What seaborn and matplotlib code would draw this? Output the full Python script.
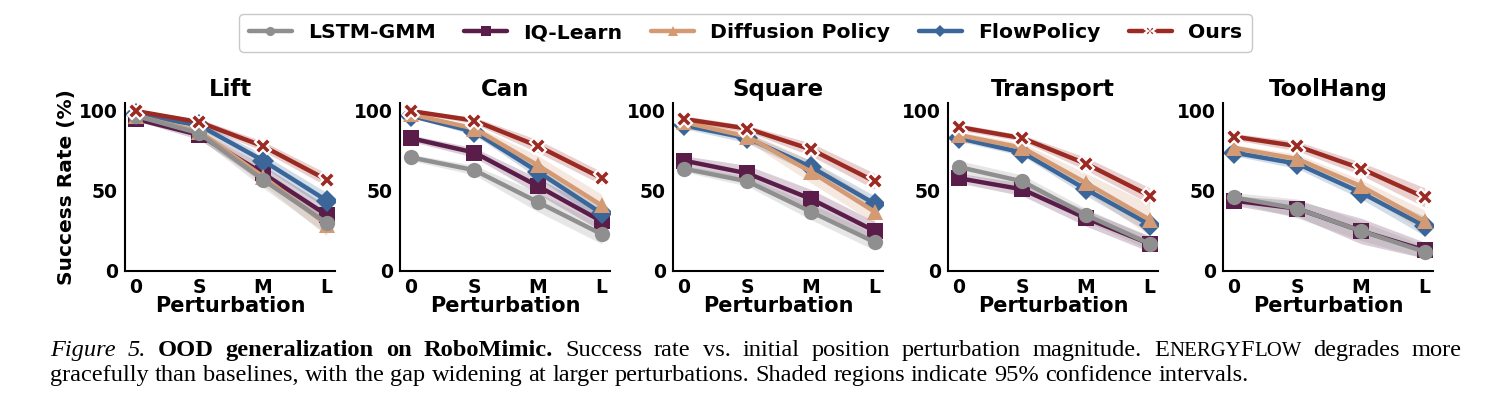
import numpy as np
import seaborn as sns
import matplotlib.pyplot as plt

# perturbation levels
levels = ['0', 'S', 'M', 'L']
methods = ['LSTM-GMM', 'IQ-Learn', 'Diffusion Policy', 'FlowPolicy', 'Ours']
draw_order = ['IQ-Learn', 'FlowPolicy', 'Diffusion Policy', 'LSTM-GMM', 'Ours']
tasks = ['Lift', 'Can', 'Square', 'Transport', 'ToolHang']

# mean success rates (%)
lift = {'LSTM-GMM': [97, 86, 57, 30], 'IQ-Learn': [95, 85, 61, 35],
        'Diffusion Policy': [97, 87, 59, 29], 'FlowPolicy': [98, 91, 69, 44],
        'Ours': [100, 93, 78, 57]}
can = {'LSTM-GMM': [71, 63, 43, 23], 'IQ-Learn': [83, 74, 53, 31],
       'Diffusion Policy': [98, 89, 66, 41], 'FlowPolicy': [97, 87, 62, 36],
       'Ours': [100, 94, 78, 58]}
square = {'LSTM-GMM': [64, 56, 37, 18], 'IQ-Learn': [69, 61, 45, 25],
          'Diffusion Policy': [93, 84, 62, 37], 'FlowPolicy': [91, 83, 65, 42],
          'Ours': [95, 89, 76, 56]}
transport = {'LSTM-GMM': [65, 56, 35, 17], 'IQ-Learn': [58, 51, 33, 17],
             'Diffusion Policy': [85, 77, 55, 32], 'FlowPolicy': [83, 74, 51, 29],
             'Ours': [90, 83, 67, 47]}
toolhang = {'LSTM-GMM': [46, 39, 25, 12], 'IQ-Learn': [44, 39, 25, 13],
            'Diffusion Policy': [77, 70, 53, 31], 'FlowPolicy': [74, 67, 49, 28],
            'Ours': [84, 78, 64, 46]}

# 95% CI half-widths (estimated from the shaded bands)
lift_ci = {'LSTM-GMM': [1, 3, 5, 7], 'IQ-Learn': [1, 3, 5, 6],
           'Diffusion Policy': [1, 3, 5, 7], 'FlowPolicy': [1, 2, 4, 5],
           'Ours': [1, 2, 3, 4]}
can_ci = {'LSTM-GMM': [2, 3, 6, 6], 'IQ-Learn': [2, 3, 5, 6],
          'Diffusion Policy': [1, 2, 6, 7], 'FlowPolicy': [1, 2, 4, 5],
          'Ours': [1, 2, 4, 4]}
square_ci = {'LSTM-GMM': [2, 3, 5, 5], 'IQ-Learn': [3, 5, 6, 6],
             'Diffusion Policy': [2, 3, 7, 7], 'FlowPolicy': [2, 3, 4, 5],
             'Ours': [2, 2, 4, 5]}
transport_ci = {'LSTM-GMM': [4, 4, 4, 4], 'IQ-Learn': [3, 4, 5, 5],
                'Diffusion Policy': [2, 3, 6, 10], 'FlowPolicy': [2, 2, 4, 5],
                'Ours': [2, 2, 4, 5]}
toolhang_ci = {'LSTM-GMM': [3, 6, 6, 4], 'IQ-Learn': [3, 5, 8, 5],
               'Diffusion Policy': [2, 3, 4, 7], 'FlowPolicy': [2, 3, 4, 6],
               'Ours': [2, 3, 4, 6]}

means = [lift, can, square, transport, toolhang]
cis = [lift_ci, can_ci, square_ci, transport_ci, toolhang_ci]

colors = {'LSTM-GMM': '#8f8f8f', 'IQ-Learn': '#5a1d4a',
          'Diffusion Policy': '#d49a74', 'FlowPolicy': '#3a6699',
          'Ours': '#9b2a22'}
markers = {'LSTM-GMM': 'o', 'IQ-Learn': 's', 'Diffusion Policy': '^',
           'FlowPolicy': 'D', 'Ours': 'X'}

sns.set_style('white')
plt.rcParams['font.family'] = ['DejaVu Sans']
plt.rcParams['font.weight'] = 'bold'
for k in ['text.color', 'axes.labelcolor', 'xtick.color', 'ytick.color',
          'axes.edgecolor']:
    plt.rcParams[k] = 'black'

fig = plt.figure(figsize=(14.91, 4.15), dpi=100)
W, H = 1491, 415
lefts = [125, 400, 673, 948, 1223]
x = np.arange(len(levels))

axes = []
for i, task in enumerate(tasks):
    ax = fig.add_axes([lefts[i] / W, 1 - 271 / H, 210 / W, 168 / H])
    axes.append(ax)
    for m in draw_order:
        y = np.array(means[i][m])
        e = np.array(cis[i][m])
        ax.fill_between(x, y - e, y + e, color=colors[m], alpha=0.22, lw=0)
        mk = dict(markersize=11, markeredgewidth=0)
        if m == 'Ours':
            mk = dict(markersize=11, markeredgecolor='white', markeredgewidth=1.5)
        sns.lineplot(x=x, y=y, ax=ax, color=colors[m], lw=3.2, marker=markers[m],
                     label=m, legend=False, **mk)
    ax.set_xlim(-0.17, 3.13)
    ax.set_ylim(0, 105)
    ax.set_xticks(x)
    ax.set_xticklabels(levels)
    ax.set_yticks([0, 50, 100])
    ax.tick_params(axis='both', labelsize=13.5, length=3, width=1.3, pad=2)
    for lab in ax.get_xticklabels() + ax.get_yticklabels():
        lab.set_fontweight('bold')
    ax.set_title(task, fontsize=16.5, fontweight='bold', pad=5)
    ax.set_xlabel('Perturbation', fontsize=15, fontweight='bold', labelpad=-1)
    if i == 0:
        ax.set_ylabel('Success Rate (%)', fontsize=14.5, fontweight='bold',
                      labelpad=2)
    else:
        ax.set_ylabel('')
    sns.despine(ax=ax)
    for s in ['left', 'bottom']:
        ax.spines[s].set_linewidth(1.5)

h, l = axes[0].get_legend_handles_labels()
lookup = dict(zip(l, h))
handles = [lookup[m] for m in methods]
leg = fig.legend(handles, methods, loc='upper center',
                 bbox_to_anchor=(0.5, 1 - 4 / H),
                 ncol=5, frameon=True, fontsize=14.7, handlelength=2.1,
                 handletextpad=0.8, columnspacing=1.4, borderpad=0.45,
                 fancybox=True, markerscale=0.6)
leg.get_frame().set_edgecolor('#bbbbbb')
for t in leg.get_texts():
    t.set_fontweight('bold')

# caption, written piece by piece so styles can change within a line
serif = 'Liberation Serif'
fs = 17.6
renderer = fig.canvas.get_renderer()

n = dict(fontsize=fs, fontweight='normal')
it = dict(fontsize=fs, style='italic', fontweight='normal')
bd = dict(fontsize=fs, fontweight='bold')
sc = dict(fontsize=fs * 0.85, fontweight='normal')


def words(s, kw):
    return [[(w, kw)] for w in s.split()]


def write(line, x0, y0, x1=None):
    # line: list of words, each word a list of (text, style) pieces
    placed = []
    widths = []
    for word in line:
        ts = []
        wsum = 0
        for txt, kw in word:
            t = fig.text(0, 1 - y0 / H, txt, family=serif, va='baseline', **kw)
            bb = t.get_window_extent(renderer=renderer)
            ts.append((t, bb.width))
            wsum += bb.width
        placed.append(ts)
        widths.append(wsum)
    sp = fig.text(0, 0, 'a b', family=serif, **n)
    sp2 = fig.text(0, 0, 'ab', family=serif, **n)
    gap = (sp.get_window_extent(renderer=renderer).width
           - sp2.get_window_extent(renderer=renderer).width)
    sp.remove()
    sp2.remove()
    if x1 is not None:
        gap = (x1 - x0 - sum(widths)) / (len(line) - 1)
    xp = x0
    for ts in placed:
        for t, w in ts:
            t.set_x(xp / W)
            xp += w
        xp += gap


line1 = (words('Figure 5.', it) + words('OOD generalization on RoboMimic.', bd)
         + words('Success rate vs. initial position perturbation magnitude.', n)
         + [[('E', n), ('NERGY', sc), ('F', n), ('LOW', sc)]]
         + words('degrades more', n))
line2 = words('gracefully than baselines, with the gap widening at larger '
              'perturbations. Shaded regions indicate 95% confidence intervals.', n)
write(line1, 50, 356, 1462)
write(line2, 50, 381)

fig.savefig('out.png', dpi=100)
